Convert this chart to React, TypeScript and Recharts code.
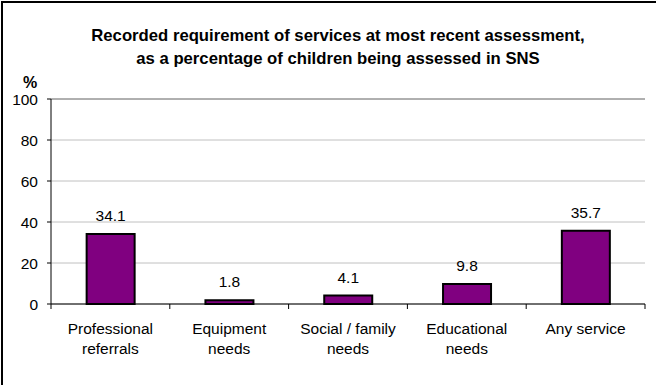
import * as React from "react";
import {
  BarChart,
  Bar,
  XAxis,
  YAxis,
  CartesianGrid,
  LabelList,
  ReferenceLine,
} from "recharts";

const categories = [
  "Professional\nreferrals",
  "Equipment\nneeds",
  "Social / family\nneeds",
  "Educational\nneeds",
  "Any service",
];
const percentages = [34.1, 1.8, 4.1, 9.8, 35.7];
const yTicks = [0, 20, 40, 60, 80, 100];
const titleLines = [
  "Recorded requirement of services at most recent assessment,",
  "as a percentage of children being assessed in SNS",
];

const W = 656;
const H = 385;
const FONT = "'Liberation Sans', Arial, sans-serif";
const MARGIN = { top: 99, right: 11, left: 0, bottom: 21 };
const Y_WIDTH = 51;
const PLOT_W = W - MARGIN.left - MARGIN.right - Y_WIDTH;
const HALF_BAND = PLOT_W / categories.length / 2;

const data = categories.map((c, i) => ({ name: c, value: percentages[i] }));

function CategoryTick(props: any) {
  const { x, y, payload, index } = props;
  const lines = String(payload.value).split("\n");
  return (
    <g>
      <line x1={x - HALF_BAND} x2={x - HALF_BAND} y1={y} y2={y + 5} stroke="#000" />
      {index === categories.length - 1 && (
        <line x1={x + HALF_BAND} x2={x + HALF_BAND} y1={y} y2={y + 5} stroke="#000" />
      )}
      <text x={x} y={y} textAnchor="middle" fontSize={15.5} fontFamily={FONT} fill="#000">
        {lines.map((l, i) => (
          <tspan key={i} x={x} dy={i === 0 ? 30 : 20}>
            {l}
          </tspan>
        ))}
      </text>
    </g>
  );
}

export default function App() {
  return (
    <div style={{ position: "absolute", left: 0, top: 0, width: W, height: H, background: "#fff", fontFamily: FONT }}>
      <div
        style={{
          position: "absolute",
          left: 1,
          top: 1,
          width: W,
          height: H,
          borderLeft: "2px solid #000",
          borderTop: "2px solid #000",
        }}
      />
      <div
        style={{
          position: "absolute",
          left: 0,
          top: 24,
          width: W,
          paddingLeft: 20,
          boxSizing: "border-box",
          textAlign: "center",
          fontWeight: "bold",
          fontSize: 16.7,
          lineHeight: "23px",
          color: "#000",
        }}
      >
        {titleLines.map((t) => (
          <div key={t}>{t}</div>
        ))}
      </div>
      <div
        style={{
          position: "absolute",
          left: 20,
          top: 73,
          width: 20,
          textAlign: "center",
          fontWeight: "bold",
          fontSize: 16,
          lineHeight: "20px",
        }}
      >
        %
      </div>
      <BarChart
        width={W}
        height={H}
        data={data}
        margin={MARGIN}
        barCategoryGap="30%"
        style={{ position: "absolute", left: 0, top: 0 }}
      >
        <CartesianGrid horizontal vertical={false} stroke="#c0c0c0" />
        <ReferenceLine y={100} stroke="#808080" ifOverflow="extendDomain" />
        <XAxis
          dataKey="name"
          height={60}
          tickLine={false}
          tickSize={0}
          tickMargin={0}
          axisLine={{ stroke: "#000" }}
          interval={0}
          tick={<CategoryTick />}
        />
        <YAxis
          width={Y_WIDTH}
          domain={[0, 100]}
          ticks={yTicks}
          interval={0}
          tickSize={4}
          tickMargin={9}
          axisLine={{ stroke: "#000" }}
          tickLine={{ stroke: "#000" }}
          tick={{ fill: "#000", fontSize: 15.5, fontFamily: FONT }}
        />
        <YAxis
          yAxisId="frame"
          orientation="right"
          width={0}
          domain={[0, 100]}
          tick={false}
          tickLine={false}
          axisLine={{ stroke: "#808080" }}
        />
        <Bar dataKey="value" fill="#800080" stroke="#000" strokeWidth={2} isAnimationActive={false}>
          <LabelList
            dataKey="value"
            position="top"
            offset={13}
            fill="#000"
            fontSize={15.5}
            fontFamily={FONT}
            formatter={(v: any) => Number(v).toFixed(1)}
          />
        </Bar>
      </BarChart>
    </div>
  );
}
